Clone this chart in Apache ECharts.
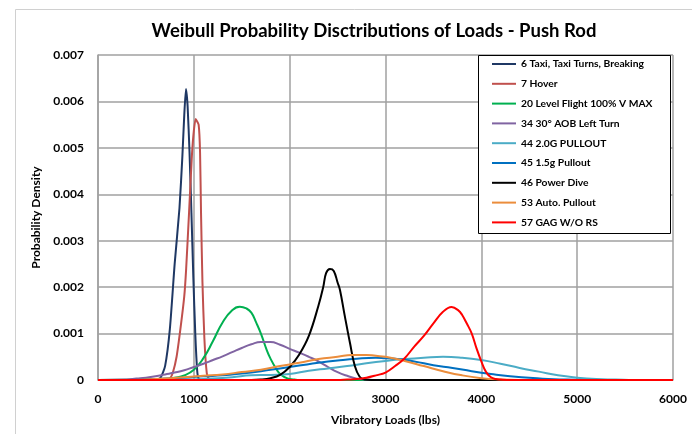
<!DOCTYPE html>
<html><head><meta charset="utf-8">
<script src="https://cdn.jsdelivr.net/npm/echarts@6/dist/echarts.min.js"></script>
<style>html,body{margin:0;padding:0;background:#fff}#c{width:692px;height:434px}</style>
</head><body><div id="c"></div><script>
const seriesNames = ['6 Taxi, Taxi Turns, Breaking','7 Hover','20 Level Flight 100% V MAX','34 30° AOB Left Turn','44 2.0G PULLOUT','45 1.5g Pullout','46 Power Dive','53 Auto. Pullout','57 GAG W/O RS'];
const seriesColors = ['#1F3864','#C0504D','#00B050','#8064A2','#4BACC6','#0070C0','#000000','#EB8D3C','#FF0000'];
const xTicks = [0,1000,2000,3000,4000,5000,6000];
const yTicks = [0,0.001,0.002,0.003,0.004,0.005,0.006,0.007];

const taxiX = [0,600,650,700,750,800,850,880,900,918,935,955,975,995,1015,1035,1050,1080,6000];
const taxiY = [0,0,0.00004,0.0003,0.0011,0.0025,0.0037,0.0048,0.0057,0.00627,0.0059,0.0049,0.0036,0.0022,0.0010,0.0002,0.00003,0,0];
const hoverX = [0,720,750,780,820,860,900,920,950,985,1019,1050,1065,1075,1090,1110,1135,1160,1200,6000];
const hoverY = [0,0,0.00003,0.00015,0.0005,0.0011,0.0018,0.0024,0.0036,0.0050,0.00562,0.0055,0.0049,0.0036,0.0021,0.0009,0.00015,0.00002,0,0];
const levelX = [0,600,700,800,900,1000,1100,1200,1300,1400,1480,1550,1600,1650,1700,1760,1800,1865,1900,1970,2050,2100,6000];
const levelY = [0,0.00001,0.00002,0.00005,0.0001,0.00022,0.00047,0.00084,0.00124,0.0015,0.00158,0.00154,0.00145,0.00124,0.001,0.00065,0.00046,0.00022,0.00013,0.00004,0.00001,0,0];
const aobX = [0,300,400,500,600,700,800,900,1000,1100,1200,1300,1400,1500,1600,1700,1800,1900,2000,2100,2200,2300,2400,2500,2600,2700,2800,2900,6000];
const aobY = [0,0.00001,0.00003,0.00005,0.00008,0.00012,0.00016,0.00021,0.00028,0.00035,0.00043,0.00051,0.0006,0.00069,0.00077,0.00082,0.00082,0.00076,0.00067,0.00059,0.0005,0.0004,0.00028,0.00017,0.00009,0.00003,0.00001,0,0];
const g20X = [0,800,1000,1200,1400,1600,1800,2000,2200,2400,2600,2800,3000,3200,3400,3600,3800,4000,4200,4400,4600,4800,5000,5200,5400,5600,6000];
const g20Y = [0,0,0.00001,0.00003,0.00006,0.0001,0.00011,0.00013,0.0002,0.00025,0.0003,0.00036,0.00041,0.00045,0.00048,0.0005,0.00048,0.00043,0.00035,0.00026,0.00018,0.0001,0.00005,0.00002,0.00001,0,0];
const g15X = [0,300,500,700,900,1100,1300,1500,1700,1900,2100,2300,2500,2700,2900,3000,3100,3300,3500,3700,3900,4100,4300,4500,4700,4900,5100,6000];
const g15Y = [0,0,0.00001,0.00003,0.00005,0.00008,0.0001,0.00014,0.00019,0.00025,0.00031,0.00037,0.00042,0.00046,0.00048,0.00047,0.00046,0.0004,0.00032,0.00026,0.00019,0.00013,0.00008,0.00005,0.00002,0.00001,0,0];
const diveX = [0,1600,1700,1800,1900,2000,2100,2200,2300,2350,2380,2420,2460,2500,2525,2575,2630,2680,2730,2780,2850,6000];
const diveY = [0,0,0.00001,0.00004,0.00011,0.00028,0.00055,0.00095,0.0016,0.002,0.0023,0.00239,0.00235,0.0021,0.00194,0.00138,0.00079,0.0003,0.00007,0.00001,0,0];
const autoX = [0,300,500,700,900,1100,1300,1500,1700,1900,2100,2300,2500,2650,2800,2900,3000,3200,3400,3600,3800,4000,4200,4400,6000];
const autoY = [0,0,0.00001,0.00003,0.00006,0.00009,0.00012,0.00017,0.00022,0.0003,0.00037,0.00045,0.0005,0.00054,0.00054,0.00052,0.0005,0.00041,0.0003,0.00019,0.0001,0.00004,0.00001,0,0];
const gagX = [0,2500,2600,2700,2800,2900,3000,3100,3200,3300,3400,3500,3600,3690,3760,3800,3850,3900,3950,4000,4050,4100,4150,4200,4300,6000];
const gagY = [0,0,0.00001,0.00002,0.00005,0.0001,0.00016,0.0003,0.00047,0.00072,0.00095,0.00122,0.00147,0.00157,0.0015,0.0014,0.00121,0.001,0.00068,0.0004,0.00017,0.00006,0.00002,0.00001,0,0];

const xs = [taxiX,hoverX,levelX,aobX,g20X,g15X,diveX,autoX,gagX];
const ys = [taxiY,hoverY,levelY,aobY,g20Y,g15Y,diveY,autoY,gagY];
const smooths = [0.2,0.2,0.5,0.5,0.5,0.5,0.4,0.5,0.4];

const font = 'Lato, "Open Sans", sans-serif';
const chart = echarts.init(document.getElementById('c'), null, {renderer:'canvas'});
chart.setOption({
  animation:false,
  backgroundColor:'#fff',
  title:{text:'Weibull Probability Disctributions of Loads - Push Rod',left:369,top:17,textAlign:'center',
    textStyle:{fontFamily:font,fontWeight:'bold',fontSize:18.5,color:'#000'}},
  grid:{left:98,right:19,top:55,bottom:54,containLabel:false},
  legend:{orient:'vertical',left:478,top:57,icon:'rect',itemWidth:24,itemHeight:2,itemGap:5.8,
    padding:[0,4,0,14],z:10,
    textStyle:{fontFamily:font,fontWeight:'bold',fontSize:10.3,color:'#000',lineHeight:14},
    data:seriesNames},
  xAxis:{type:'value',min:0,max:6000,interval:1000,
    name:'Vibratory Loads (lbs)',nameLocation:'middle',nameGap:34,
    nameTextStyle:{fontFamily:font,fontWeight:'bold',fontSize:12,color:'#000'},
    axisLine:{show:true,lineStyle:{color:'#A0A0A0',width:1.5}},axisTick:{show:false},
    axisLabel:{fontFamily:font,fontWeight:'bold',fontSize:12,color:'#000',margin:13,
      formatter:v=>{const t=xTicks.find(k=>k===v);return t!==undefined?String(t):'';}},
    splitLine:{show:true,lineStyle:{color:'#A0A0A0',width:1.5}}},
  yAxis:{type:'value',min:0,max:0.007,interval:0.001,
    name:'Probability Density',nameLocation:'middle',nameGap:46,
    nameTextStyle:{fontFamily:font,fontWeight:'bold',fontSize:12,color:'#000'},
    axisLine:{show:true,lineStyle:{color:'#A0A0A0',width:1.5}},axisTick:{show:false},
    axisLabel:{fontFamily:font,fontWeight:'bold',fontSize:12,color:'#000',margin:14,
      formatter:v=>{const t=yTicks.find(k=>Math.abs(k-v)<1e-9);return t===0?'0':(t!==undefined?t.toFixed(3):'');}},
    splitLine:{show:true,lineStyle:{color:'#A0A0A0',width:1.5}}},
  graphic:[
    {type:'rect',left:13,top:7,shape:{width:700,height:440},style:{fill:'none',stroke:'#D0D0D0',lineWidth:1},z:-10,silent:true},
    {type:'rect',left:478,top:55,shape:{width:192,height:178},style:{fill:'#fff',stroke:'#000',lineWidth:1},z:3,silent:true}
  ],
  series:seriesNames.map((n,i)=>({
    name:n,type:'line',showSymbol:false,symbol:'none',smooth:smooths[i],
    data:xs[i].map((x,j)=>[x,ys[i][j]]),
    lineStyle:{color:seriesColors[i],width:2},itemStyle:{color:seriesColors[i]},z:2
  }))
});
</script></body></html>
